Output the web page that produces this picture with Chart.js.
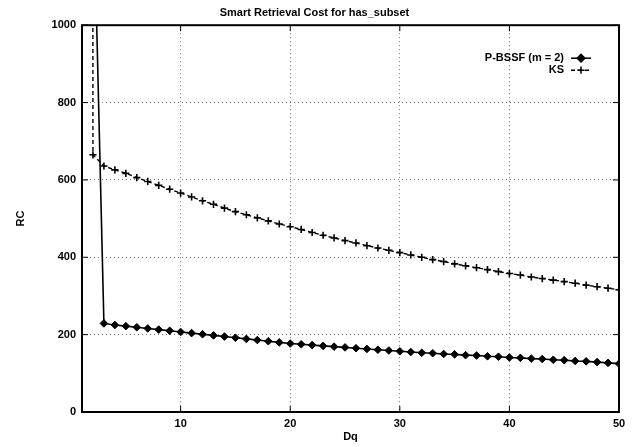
<!DOCTYPE html>
<html>
<head>
<meta charset="utf-8">
<script src="https://cdn.jsdelivr.net/npm/chart.js@4"></script>
<style>
  html, body { margin: 0; padding: 0; background: #fff; }
  #wrap { width: 633px; height: 447px; }
</style>
</head>
<body>
<div id="wrap"><canvas id="chart"></canvas></div>
<script>
// ----- DATA -----
const dq = [1, 2, 3, 4, 5, 6, 7, 8, 9, 10, 11, 12, 13, 14, 15, 16, 17, 18, 19, 20,
  21, 22, 23, 24, 25, 26, 27, 28, 29, 30, 31, 32, 33, 34, 35, 36, 37, 38, 39, 40,
  41, 42, 43, 44, 45, 46, 47, 48, 49, 50];

// P-BSSF (m = 2): first two points are far above the plotted range
const pbssf = [20000, 1400, 229, 225, 222, 219, 216, 213, 210, 207, 204, 201, 198, 195, 192, 189, 186, 183, 180, 177,
  175, 173, 171, 169, 167, 165, 163, 161, 159, 157, 155, 153, 152, 150, 149, 147, 146, 144, 143, 141,
  140, 138, 137, 135, 134, 132, 131, 129, 127, 125];

// KS
const ks = [50000, 665, 636, 626, 617, 606, 596, 586, 576, 566, 556, 546, 537, 527, 518, 510, 502, 494, 486, 479,
  472, 464, 457, 450, 443, 437, 430, 424, 418, 412, 406, 400, 394, 389, 383, 378, 373, 368, 363, 358,
  354, 349, 345, 341, 337, 333, 328, 324, 320, 316];

const xTicks = [10, 20, 30, 40, 50];
const yTicks = [0, 200, 400, 600, 800, 1000];
const seriesNames = ['P-BSSF (m = 2)', 'KS'];

const FONT = '"Liberation Sans", Arial, sans-serif';

function toPoints(values) {
  return dq.map((d, i) => ({ x: d, y: values[i] }));
}

// ----- FRAME + INNER TICKS (gnuplot style box) -----
const framePlugin = {
  id: 'frame',
  afterDatasetsDraw(chart) {
    const { ctx, chartArea: a, scales } = chart;
    const line = (x1, y1, x2, y2) => {
      ctx.beginPath(); ctx.moveTo(x1, y1); ctx.lineTo(x2, y2); ctx.stroke();
    };
    ctx.save();
    ctx.setLineDash([]);
    ctx.strokeStyle = '#000';
    ctx.lineWidth = 1;
    xTicks.forEach(v => {
      const px = scales.x.getPixelForValue(v);
      line(px, a.bottom, px, a.bottom - 6);
      line(px, a.top, px, a.top + 6);
    });
    yTicks.forEach(v => {
      const py = scales.y.getPixelForValue(v);
      line(a.left, py, a.left + 6, py);
      line(a.right, py, a.right - 6, py);
    });
    ctx.lineWidth = 2;
    ctx.strokeRect(a.left, a.top, a.right - a.left, a.bottom - a.top);
    ctx.restore();
  }
};

// ----- LEGEND (top right, text right aligned, sample after it) -----
const keyPlugin = {
  id: 'key',
  afterDraw(chart) {
    const { ctx, chartArea: a } = chart;
    ctx.save();
    ctx.font = 'bold 11px ' + FONT;
    ctx.fillStyle = '#000';
    ctx.textAlign = 'right';
    ctx.textBaseline = 'middle';
    chart.data.datasets.forEach((ds, i) => {
      const y = a.top + 33 + i * 12;
      const x0 = a.right - 48, x1 = a.right - 28;
      ctx.fillText(seriesNames[i], x0 - 7, y);
      ctx.strokeStyle = '#000';
      ctx.lineWidth = 1.5;
      ctx.setLineDash(ds.borderDash || []);
      ctx.beginPath(); ctx.moveTo(x0, y); ctx.lineTo(x1, y); ctx.stroke();
      ctx.setLineDash([]);
      Chart.helpers.drawPoint(ctx, {
        pointStyle: ds.pointStyle, radius: ds.pointRadius, borderWidth: ds.pointBorderWidth
      }, (x0 + x1) / 2, y);
      if (ds.pointStyle === 'rectRot') ctx.fill();
    });
    ctx.restore();
  }
};

new Chart(document.getElementById('chart'), {
  type: 'line',
  data: {
    datasets: [
      {
        label: seriesNames[0],
        data: toPoints(pbssf),
        borderColor: '#000',
        backgroundColor: '#000',
        borderWidth: 1.6,
        pointStyle: 'rectRot',
        pointRadius: 3.8,
        pointBorderWidth: 1,
        pointBackgroundColor: '#000',
        pointBorderColor: '#000',
        tension: 0
      },
      {
        label: seriesNames[1],
        data: toPoints(ks),
        borderColor: '#000',
        backgroundColor: '#000',
        borderWidth: 1.4,
        borderDash: [4, 3],
        pointStyle: 'cross',
        pointRadius: 3.6,
        pointBorderWidth: 1.6,
        pointBorderColor: '#000',
        tension: 0
      }
    ]
  },
  options: {
    responsive: true,
    maintainAspectRatio: false,
    animation: false,
    layout: { padding: { left: 10, right: 14, top: 4, bottom: 0 } },
    plugins: {
      legend: { display: false },
      tooltip: { enabled: false },
      title: {
        display: true,
        text: 'Smart Retrieval Cost for has_subset',
        color: '#000',
        font: { family: FONT, size: 11, weight: 'bold' },
        padding: { top: 2, bottom: 6 }
      }
    },
    scales: {
      x: {
        type: 'linear',
        min: 1,
        max: 50,
        afterBuildTicks: scale => { scale.ticks = xTicks.map(v => ({ value: v })); },
        afterFit: scale => { scale.height = 35; },
        grid: { color: '#777', drawTicks: false },
        border: { display: false, dash: [1, 3] },
        ticks: {
          color: '#000',
          padding: 5,
          maxRotation: 0,
          font: { family: FONT, size: 11, weight: 'bold' },
          callback: v => String(v)
        },
        title: {
          display: true,
          text: 'Dq',
          color: '#000',
          font: { family: FONT, size: 11, weight: 'bold' },
          padding: { top: 0, bottom: 3 }
        }
      },
      y: {
        min: 0,
        max: 1000,
        afterBuildTicks: scale => { scale.ticks = yTicks.map(v => ({ value: v })); },
        afterFit: scale => { scale.width = 72; },
        grid: { color: '#777', drawTicks: false },
        border: { display: false, dash: [1, 3] },
        ticks: {
          color: '#000',
          padding: 6,
          font: { family: FONT, size: 11, weight: 'bold' },
          callback: v => String(v)
        },
        title: {
          display: true,
          text: 'RC',
          color: '#000',
          font: { family: FONT, size: 11, weight: 'bold' },
          padding: { top: 4, bottom: 0 }
        }
      }
    }
  },
  plugins: [framePlugin, keyPlugin]
});
</script>
</body>
</html>
